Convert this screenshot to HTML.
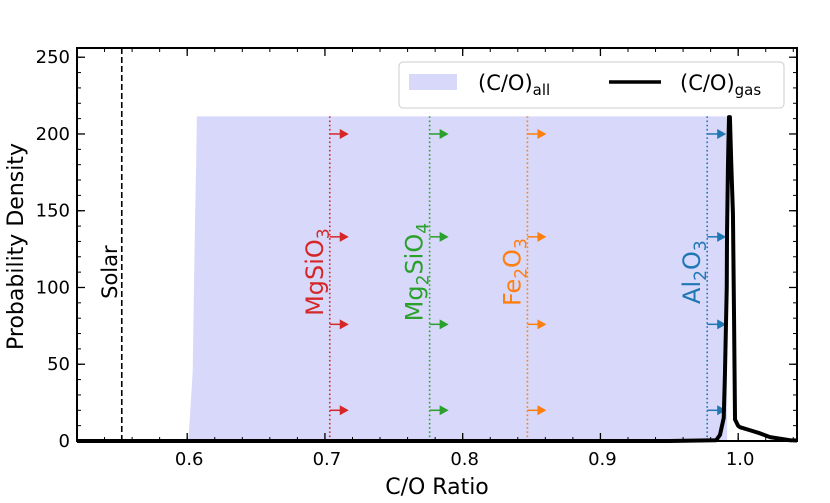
<!DOCTYPE html>
<html><head><meta charset="utf-8"><style>
body{margin:0;background:#fff;width:830px;height:498px;overflow:hidden}
text{font-family:"DejaVu Sans","Liberation Sans",sans-serif}
</style></head><body>
<svg id="chart" width="830" height="498" xmlns="http://www.w3.org/2000/svg"></svg>
<script>
const xTicks=[0.6,0.7,0.8,0.9,1.0];
const xTickLabels=["0.6","0.7","0.8","0.9","1.0"];
const yTicks=[0,50,100,150,200,250];
const yTickLabels=["0","50","100","150","200","250"];
const allX=[0.596,0.601,0.604,0.6055,0.6065,0.607,0.9915,0.992];
const allY=[0,2,45,135,180,211.5,211.5,0];
const gasX=[0.52,0.95,0.984,0.9868,0.9895,0.9904,0.9917,0.9919,0.9926,0.9933,0.9940,0.9950,0.9962,0.9970,0.9977,0.9999,1.0013,1.0086,1.0158,1.0231,1.0376,1.0427];
const gasY=[0,0,0.5,4,15,44,100,135,180,211,211,180,148,80,14,10,9,7,5,2.5,0.5,0.3];
const minerals=["MgSiO3","Mg2SiO4","Fe2O3","Al2O3"];
const mineralX=[0.7035,0.776,0.847,0.9775];
const mineralColors=["#d62728","#2ca02c","#ff7f0e","#1f77b4"];
const arrowY=[200,133,76,20];
const solarX=0.5525;

const L=77,R=797,T=48,B=441;
const X0=0.52,X1=1.0427,Y0=0,Y1=256;
const sx=v=>L+(v-X0)/(X1-X0)*(R-L);
const sy=v=>B-(v-Y0)/(Y1-Y0)*(B-T);
const svg=document.getElementById('chart');
const NS="http://www.w3.org/2000/svg";
function mk(tag,attrs,parent){const e=document.createElementNS(NS,tag);for(const k in attrs)e.setAttribute(k,attrs[k]);(parent||svg).appendChild(e);return e;}

let d="M"+allX.map((x,i)=>sx(x)+","+sy(allY[i])).join("L")+"Z";
let fill=mk('path',{d:d,fill:"#d8d8fa"});



let sol=mk('line',{x1:sx(solarX),x2:sx(solarX),y1:T,y2:B,stroke:"#000","stroke-width":1.6,"stroke-dasharray":"6,3"});


let st=mk('text',{x:0,y:0,"font-size":21,"text-anchor":"middle",transform:`translate(${sx(solarX)-5},${sy(110)}) rotate(-90)`});
st.textContent="Solar";



const labelHtml=[["MgSiO","3"],["Mg","2","SiO","4"],["Fe","2","O","3"],["Al","2","O","3"]];
minerals.forEach((m,i)=>{
  const x=sx(mineralX[i]),c=mineralColors[i];
  let ln=mk('line',{x1:x,x2:x,y1:sy(211.5),y2:B,stroke:c,"stroke-width":1.6,"stroke-dasharray":"1.6,2.6"});
  
  
  arrowY.forEach((a,j)=>{
    const y=sy(a);
    let ar=mk('line',{x1:x,x2:x+12,y1:y,y2:y,stroke:c,"stroke-width":1.5});
    
    
    let h=mk('path',{d:`M${x+10},${y-5}L${x+19},${y}L${x+10},${y+5}Z`,fill:c});
    
    
  });
  let t=mk('text',{x:0,y:0,"font-size":24,fill:c,"text-anchor":"middle",transform:`translate(${x-7},${sy(110)}) rotate(-90)`});
  const parts=labelHtml[i];
  parts.forEach((p,k)=>{
    const sub=/^\d$/.test(p);
    const ts=mk('tspan',sub?{"font-size":17,dy:6}:{dy:k>0?-6:0},t);
    ts.textContent=p;
  });
  
  
});

let gd="M"+gasX.map((x,i)=>sx(x)+","+sy(gasY[i])).join("L");
let gp=mk('path',{d:gd,fill:"none",stroke:"#000","stroke-width":4,"stroke-linejoin":"round"});



let fr=mk('rect',{x:L,y:T,width:R-L,height:B-T,fill:"none",stroke:"#000","stroke-width":2});


for(let v=0.52;v<=1.043;v+=0.02){const x=sx(v);mk('line',{x1:x,x2:x,y1:B,y2:B-4,stroke:"#000","stroke-width":1});mk('line',{x1:x,x2:x,y1:T,y2:T+4,stroke:"#000","stroke-width":1});}
for(let v=0;v<=256;v+=10){const y=sy(v);mk('line',{x1:L,x2:L+4,y1:y,y2:y,stroke:"#000","stroke-width":1});mk('line',{x1:R,x2:R-4,y1:y,y2:y,stroke:"#000","stroke-width":1});}
xTicks.forEach((v,i)=>{const x=sx(v);
  mk('line',{x1:x,x2:x,y1:B,y2:B-8,stroke:"#000","stroke-width":1.3});mk('line',{x1:x,x2:x,y1:T,y2:T+8,stroke:"#000","stroke-width":1.3});
  let t=mk('text',{x:x+2,y:B+24,"font-size":18,"text-anchor":"middle"});t.textContent=xTickLabels[i];
  
  
});
yTicks.forEach((v,i)=>{const y=sy(v);
  mk('line',{x1:L,x2:L+8,y1:y,y2:y,stroke:"#000","stroke-width":1.3});mk('line',{x1:R,x2:R-8,y1:y,y2:y,stroke:"#000","stroke-width":1.3});
  let t=mk('text',{x:L-7,y:y+6,"font-size":18,"text-anchor":"end"});t.textContent=yTickLabels[i];
  
  
});
let xt=mk('text',{x:(L+R)/2,y:494,"font-size":22,"text-anchor":"middle"});xt.textContent="C/O Ratio";


let yt=mk('text',{x:0,y:0,"font-size":22,"text-anchor":"middle",transform:`translate(23,${(T+B)/2+2}) rotate(-90)`});yt.textContent="Probability Density";



let lg=mk('g',{});


mk('rect',{x:399,y:62,width:385,height:46,rx:4,fill:"#fff","fill-opacity":0.85,stroke:"#ccc","stroke-width":1},lg);
mk('rect',{x:409,y:74,width:48,height:16,fill:"#d8d8fa"},lg);
let l1=mk('text',{x:478,y:90,"font-size":21},lg);
l1.innerHTML='(C/O)<tspan font-size="15" dy="5">all</tspan>';


mk('line',{x1:609,x2:661,y1:82,y2:82,stroke:"#000","stroke-width":3.5},lg);
let l2=mk('text',{x:680,y:90,"font-size":21},lg);
l2.innerHTML='(C/O)<tspan font-size="15" dy="5">gas</tspan>';


</script>
</body></html>
